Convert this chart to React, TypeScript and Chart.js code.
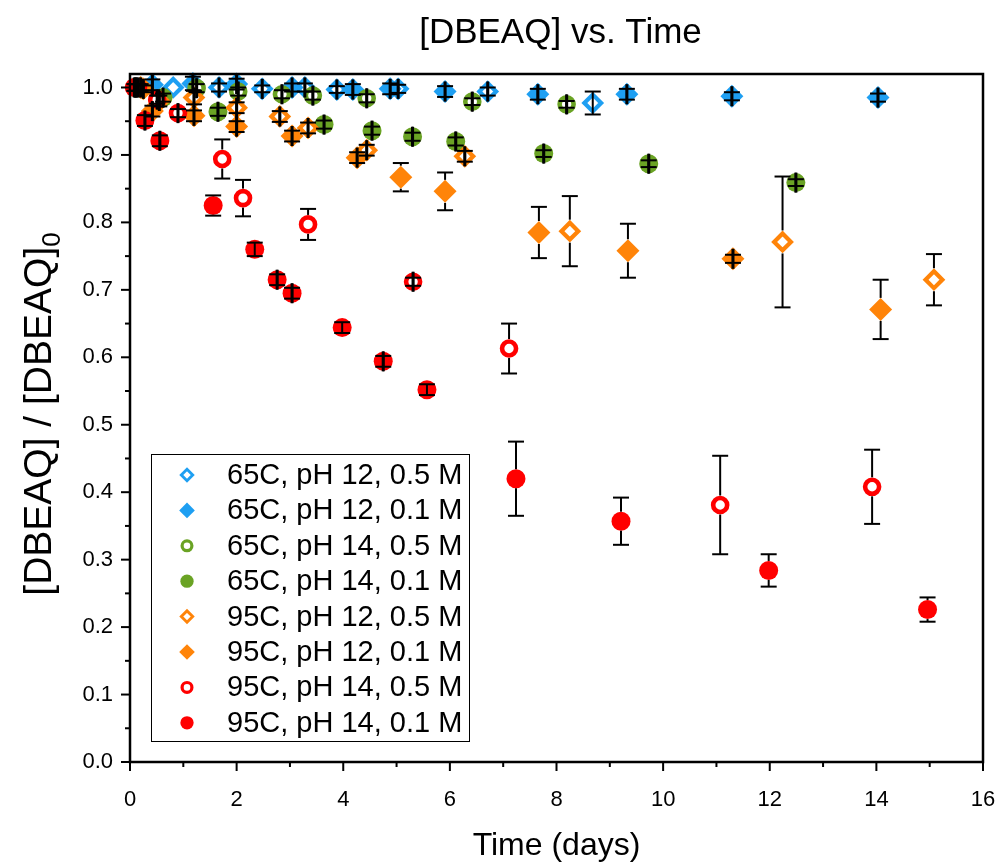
import React, { useEffect, useRef } from 'react';
import { Chart, registerables } from 'chart.js';

Chart.register(...registerables);

const FONT = '"Liberation Sans", Arial, sans-serif';

// ---- Chart text ----
const chartTitle = '[DBEAQ] vs. Time';
const xAxisTitle = 'Time (days)';
const yAxisTitleMain = '[DBEAQ] / [DBEAQ]';
const yAxisTitleSub = '0';

// ---- Axis ticks ----
const xMajorTicks = [0, 2, 4, 6, 8, 10, 12, 14, 16];
const xMinorTicks = [1, 3, 5, 7, 9, 11, 13, 15];
const yMajorTicks = [0, 0.1, 0.2, 0.3, 0.4, 0.5, 0.6, 0.7, 0.8, 0.9, 1.0];
const yMinorTicks = [0.05, 0.15, 0.25, 0.35, 0.45, 0.55, 0.65, 0.75, 0.85, 0.95];

// ---- Series meta ----
const seriesLabels = [
  '65C, pH 12, 0.5 M',
  '65C, pH 12, 0.1 M',
  '65C, pH 14, 0.5 M',
  '65C, pH 14, 0.1 M',
  '95C, pH 12, 0.5 M',
  '95C, pH 12, 0.1 M',
  '95C, pH 14, 0.5 M',
  '95C, pH 14, 0.1 M',
];
const seriesColors = ['#1E9FF2', '#1E9FF2', '#6AA324', '#6AA324', '#FF8409', '#FF8409', '#FF0000', '#FF0000'];
const seriesShapes = ['diamond', 'diamond', 'circle', 'circle', 'diamond', 'diamond', 'circle', 'circle'];
const seriesFilled = [false, true, false, true, false, true, false, true];

// ---- Series data (time in days, normalized concentration, errors) ----
// 65C, pH 12, 0.5 M
const s1X = [0.81, 1.67, 2.48, 3.28, 3.88, 5.03, 6.71, 8.68];
const s1Y = [1.0, 1.0, 0.998, 1.0, 0.997, 0.998, 0.994, 0.977];
const s1YErr = [0, 0.006, 0.005, 0.006, 0.005, 0.006, 0.006, 0.017];
const s1XErr = [0, 0.01, 0.01, 0.01, 0.01, 0.01, 0.01, 0];

// 65C, pH 12, 0.1 M
const s2X = [0.42, 1.18, 2.0, 3.04, 4.18, 4.88, 5.91, 7.65, 9.32, 11.29, 14.03];
const s2Y = [1.004, 1.006, 1.005, 1.0, 0.997, 0.998, 0.994, 0.99, 0.99, 0.987, 0.985];
const s2YErr = [0.008, 0.01, 0.008, 0.006, 0.008, 0.008, 0.008, 0.008, 0.008, 0.006, 0.006];
const s2XErr = [0.01, 0.01, 0.01, 0.01, 0.01, 0.01, 0.01, 0.01, 0.01, 0.01, 0.01];

// 65C, pH 14, 0.5 M
const s3X = [0.12, 1.25, 2.03, 2.85, 3.43, 4.44, 6.42, 8.19];
const s3Y = [1.0, 0.999, 0.994, 0.99, 0.988, 0.984, 0.979, 0.975];
const s3YErr = [0.005, 0.006, 0.006, 0.006, 0.006, 0.006, 0.005, 0.005];
const s3XErr = [0.01, 0.01, 0.01, 0.01, 0.01, 0.01, 0.01, 0.01];

// 65C, pH 14, 0.1 M
const s4X = [0.1, 0.62, 1.65, 3.64, 4.54, 5.3, 6.11, 7.76, 9.73, 12.49];
const s4Y = [1.0, 0.985, 0.964, 0.945, 0.936, 0.927, 0.92, 0.902, 0.887, 0.859];
const s4YErr = [0.005, 0.006, 0.006, 0.006, 0.006, 0.006, 0.006, 0.005, 0.005, 0.005];
const s4XErr = [0.01, 0.01, 0.01, 0.01, 0.01, 0.01, 0.01, 0.01, 0.01, 0.01];

// 95C, pH 12, 0.5 M
const s5X = [0.25, 0.55, 1.2, 2.0, 2.81, 3.34, 4.44, 6.28, 8.25, 12.24, 15.08];
const s5Y = [0.998, 0.98, 0.985, 0.97, 0.957, 0.94, 0.907, 0.898, 0.787, 0.771, 0.715];
const s5YErr = [0.005, 0.008, 0.01, 0.008, 0.008, 0.008, 0.008, 0.008, 0.052, 0.097, 0.038];
const s5XErr = [0.01, 0.01, 0.01, 0.01, 0.01, 0.01, 0.01, 0.01, 0, 0, 0];

// 95C, pH 12, 0.1 M
const s6X = [0.2, 0.42, 1.2, 2.0, 3.04, 4.26, 5.08, 5.91, 7.67, 9.34, 11.31, 14.08];
const s6Y = [1.0, 0.965, 0.958, 0.942, 0.928, 0.896, 0.867, 0.846, 0.785, 0.758, 0.746, 0.671];
const s6YErr = [0.005, 0.008, 0.008, 0.008, 0.008, 0.008, 0.021, 0.028, 0.038, 0.04, 0.006, 0.044];
const s6XErr = [0.01, 0.01, 0.01, 0.01, 0.01, 0.01, 0, 0, 0, 0, 0.01, 0];

// 95C, pH 14, 0.5 M
const s7X = [0.15, 0.51, 0.9, 1.73, 2.12, 3.34, 5.31, 7.11, 11.07, 13.92];
const s7Y = [1.0, 0.982, 0.962, 0.894, 0.836, 0.797, 0.712, 0.613, 0.381, 0.408];
const s7YErr = [0.005, 0.006, 0.006, 0.029, 0.027, 0.023, 0.006, 0.037, 0.073, 0.055];
const s7XErr = [0.01, 0.01, 0.01, 0, 0, 0, 0.01, 0, 0, 0];

// 95C, pH 14, 0.1 M
const s8X = [0.08, 0.28, 0.56, 1.56, 2.34, 2.76, 3.04, 3.98, 4.75, 5.57, 7.24, 9.21, 11.98, 14.96];
const s8Y = [1.0, 0.951, 0.921, 0.825, 0.76, 0.715, 0.695, 0.644, 0.594, 0.552, 0.42, 0.357, 0.284, 0.226];
const s8YErr = [0.005, 0.008, 0.008, 0.015, 0.01, 0.008, 0.008, 0.008, 0.008, 0.008, 0.055, 0.035, 0.024, 0.018];
const s8XErr = [0.01, 0.01, 0.01, 0, 0, 0.01, 0.01, 0, 0.01, 0, 0, 0, 0, 0];

const seriesX = [s1X, s2X, s3X, s4X, s5X, s6X, s7X, s8X];
const seriesY = [s1Y, s2Y, s3Y, s4Y, s5Y, s6Y, s7Y, s8Y];
const seriesYErr = [s1YErr, s2YErr, s3YErr, s4YErr, s5YErr, s6YErr, s7YErr, s8YErr];
const seriesXErr = [s1XErr, s2XErr, s3XErr, s4XErr, s5XErr, s6XErr, s7XErr, s8XErr];

// marker geometry
function markerStyle(shape: string, filled: boolean, scale = 1) {
  if (shape === 'diamond') {
    return filled
      ? { pointStyle: 'rectRot', radius: 11.5 * scale, borderWidth: 0 }
      : { pointStyle: 'rectRot', radius: 8.4 * scale, borderWidth: 4.2 * scale };
  }
  return filled
    ? { pointStyle: 'circle', radius: 9.5 * scale, borderWidth: 0 }
    : { pointStyle: 'circle', radius: 7.0 * scale, borderWidth: 4.6 * scale };
}

function markerHalfSize(i: number) {
  return seriesShapes[i] === 'diamond' ? 11.5 : 9.5;
}

function drawMarker(ctx: CanvasRenderingContext2D, i: number, x: number, y: number, scale: number) {
  const m = markerStyle(seriesShapes[i], seriesFilled[i], scale);
  ctx.beginPath();
  if (seriesShapes[i] === 'diamond') {
    const r = m.radius;
    ctx.moveTo(x - r, y);
    ctx.lineTo(x, y - r);
    ctx.lineTo(x + r, y);
    ctx.lineTo(x, y + r);
    ctx.closePath();
  } else {
    ctx.arc(x, y, m.radius, 0, Math.PI * 2);
  }
  if (seriesFilled[i]) {
    ctx.fillStyle = seriesColors[i];
    ctx.fill();
  } else {
    ctx.fillStyle = '#fff';
    ctx.fill();
    ctx.lineWidth = m.borderWidth;
    ctx.strokeStyle = seriesColors[i];
    ctx.stroke();
  }
}

const errorBarPlugin = {
  id: 'errorBars',
  afterDatasetsDraw(chart: any) {
    const { ctx, scales } = chart;
    const xs = scales.x;
    const ys = scales.y;
    const capY = 8;
    const capX = 10;
    ctx.save();
    ctx.strokeStyle = '#000';
    ctx.lineWidth = 2;
    ctx.lineCap = 'butt';
    const line = (x1: number, y1: number, x2: number, y2: number) => {
      ctx.beginPath();
      ctx.moveTo(x1, y1);
      ctx.lineTo(x2, y2);
      ctx.stroke();
    };
    for (let i = 0; i < seriesX.length; i++) {
      const half = markerHalfSize(i);
      for (let j = 0; j < seriesX[i].length; j++) {
        const vx = seriesX[i][j];
        const vy = seriesY[i][j];
        const px = xs.getPixelForValue(vx);
        const py = ys.getPixelForValue(vy);
        const ye = seriesYErr[i][j];
        const xe = seriesXErr[i][j];
        if (ye > 0) {
          const yt = ys.getPixelForValue(vy + ye);
          const yb = ys.getPixelForValue(vy - ye);
          if (py - yt > half) {
            line(px, yt, px, py - half);
            line(px, py + half, px, yb);
          } else {
            line(px, yt, px, yb);
          }
          line(px - capY, yt, px + capY, yt);
          line(px - capY, yb, px + capY, yb);
        }
        if (xe > 0) {
          const xl = xs.getPixelForValue(vx - xe);
          const xr = xs.getPixelForValue(vx + xe);
          line(xl, py, xr, py);
          line(xl, py - capX, xl, py + capX);
          line(xr, py - capX, xr, py + capX);
        }
      }
    }
    ctx.restore();
  },
};

const framePlugin = {
  id: 'frame',
  afterDraw(chart: any) {
    const { ctx, chartArea, scales } = chart;
    const { left, right, top, bottom } = chartArea;
    ctx.save();
    ctx.strokeStyle = '#000';
    ctx.lineWidth = 2.5;
    ctx.strokeRect(left, top, right - left, bottom - top);
    ctx.lineWidth = 2;
    const tick = (x1: number, y1: number, x2: number, y2: number) => {
      ctx.beginPath();
      ctx.moveTo(x1, y1);
      ctx.lineTo(x2, y2);
      ctx.stroke();
    };
    xMajorTicks.forEach((v) => {
      const p = scales.x.getPixelForValue(v);
      tick(p, bottom, p, bottom + 9);
    });
    xMinorTicks.forEach((v) => {
      const p = scales.x.getPixelForValue(v);
      tick(p, bottom, p, bottom + 5);
    });
    yMajorTicks.forEach((v) => {
      const p = scales.y.getPixelForValue(v);
      tick(left, p, left - 9, p);
    });
    yMinorTicks.forEach((v) => {
      const p = scales.y.getPixelForValue(v);
      tick(left, p, left - 5, p);
    });

    // chart title (centered over plot area)
    ctx.fillStyle = '#000';
    ctx.font = `35px ${FONT}`;
    ctx.textAlign = 'center';
    ctx.textBaseline = 'middle';
    ctx.fillText(chartTitle, (left + right) / 2 + 4, 33);

    // y axis title with subscript
    ctx.save();
    ctx.translate(38, (top + bottom) / 2 - 4);
    ctx.rotate(-Math.PI / 2);
    ctx.font = `39px ${FONT}`;
    const wMain = ctx.measureText(yAxisTitleMain).width;
    ctx.font = `26px ${FONT}`;
    const wSub = ctx.measureText(yAxisTitleSub).width;
    const start = -(wMain + wSub) / 2;
    ctx.textAlign = 'left';
    ctx.textBaseline = 'alphabetic';
    ctx.font = `39px ${FONT}`;
    ctx.fillText(yAxisTitleMain, start, 13);
    ctx.font = `26px ${FONT}`;
    ctx.fillText(yAxisTitleSub, start + wMain, 22);
    ctx.restore();

    // legend
    const lx = 151;
    const ly = 454;
    const lw = 318;
    const lh = 287;
    ctx.fillStyle = '#fff';
    ctx.fillRect(lx, ly, lw, lh);
    ctx.lineWidth = 1;
    ctx.strokeStyle = '#000';
    ctx.strokeRect(lx + 0.5, ly + 0.5, lw, lh);
    for (let i = 0; i < seriesLabels.length; i++) {
      const yy = 475 + i * 35.4;
      drawMarker(ctx, i, 187, yy, seriesShapes[i] === 'diamond' ? 0.68 : 0.7);
      ctx.fillStyle = '#000';
      ctx.font = `29px ${FONT}`;
      ctx.textAlign = 'left';
      ctx.textBaseline = 'middle';
      ctx.fillText(seriesLabels[i], 227, yy + 1);
    }
    ctx.restore();
  },
};

export default function App() {
  const canvasRef = useRef<HTMLCanvasElement | null>(null);

  useEffect(() => {
    if (!canvasRef.current) return;
    const datasets = seriesLabels.map((label, i) => {
      const m = markerStyle(seriesShapes[i], seriesFilled[i]);
      return {
        label,
        data: seriesX[i].map((x, j) => ({ x, y: seriesY[i][j] })),
        showLine: false,
        pointStyle: m.pointStyle,
        pointRadius: m.radius,
        pointHoverRadius: m.radius,
        pointBorderWidth: m.borderWidth,
        pointBackgroundColor: seriesFilled[i] ? seriesColors[i] : '#ffffff',
        pointBorderColor: seriesColors[i],
        backgroundColor: seriesFilled[i] ? seriesColors[i] : '#ffffff',
        borderColor: seriesColors[i],
        order: seriesLabels.length - i,
        clip: false as any,
      };
    });

    const chart = new Chart(canvasRef.current, {
      type: 'scatter',
      data: { datasets },
      options: {
        animation: false,
        responsive: false,
        events: [],
        layout: { padding: { left: 0, right: 17, top: 74, bottom: 0 } },
        plugins: {
          legend: { display: false },
          title: { display: false },
          tooltip: { enabled: false },
        },
        scales: {
          x: {
            type: 'linear',
            min: 0,
            max: 16,
            afterBuildTicks: (s: any) => {
              s.ticks = xMajorTicks.map((v) => ({ value: v }));
            },
            afterFit: (s: any) => {
              s.height = 103;
              s.paddingLeft = 0;
              s.paddingRight = 0;
            },
            grid: { display: false, drawTicks: false },
            border: { display: false },
            ticks: {
              color: '#000',
              font: { family: FONT, size: 22 },
              padding: 25,
              maxRotation: 0,
              autoSkip: false,
              callback: (v: any) => String(v),
            },
            title: {
              display: true,
              text: xAxisTitle,
              color: '#000',
              font: { family: FONT, size: 32 },
              padding: { top: 0, bottom: 0 },
            },
          },
          y: {
            type: 'linear',
            min: 0,
            max: 1.02,
            afterBuildTicks: (s: any) => {
              s.ticks = yMajorTicks.map((v) => ({ value: v }));
            },
            afterFit: (s: any) => {
              s.width = 130;
              s.paddingTop = 0;
              s.paddingBottom = 0;
            },
            grid: { display: false, drawTicks: false },
            border: { display: false },
            ticks: {
              color: '#000',
              font: { family: FONT, size: 22 },
              padding: 17,
              autoSkip: false,
              callback: (v: any) => Number(v).toFixed(1),
            },
          },
        },
      },
      plugins: [errorBarPlugin, framePlugin],
    });
    return () => chart.destroy();
  }, []);

  return (
    <div style={{ position: 'absolute', left: 0, top: 0, width: 1000, height: 865, background: '#fff' }}>
      <canvas ref={canvasRef} width={1000} height={865} style={{ display: 'block' }} />
    </div>
  );
}
